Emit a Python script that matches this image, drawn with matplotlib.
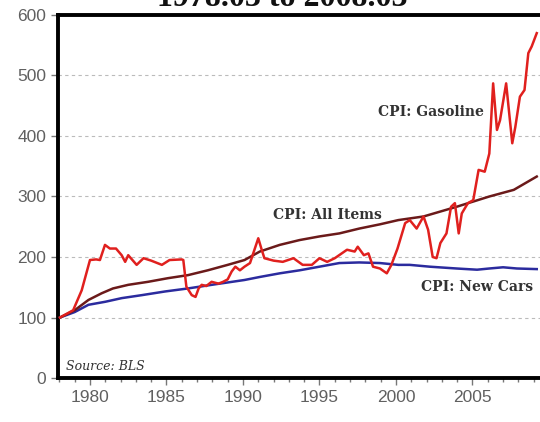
import matplotlib
matplotlib.use("Agg")
import matplotlib.pyplot as plt
from matplotlib.ticker import MultipleLocator

# ---- data (index, 1978.03 = 100) ----
gas_x = [1978.04, 1978.9, 1979.46, 1980.0, 1980.4, 1980.65, 1980.98, 1981.3, 1981.7,
         1982.07, 1982.3, 1982.5, 1983.05, 1983.5, 1984.0, 1984.7, 1985.2, 1986.0,
         1986.1, 1986.3, 1986.65, 1986.9, 1987.1, 1987.3, 1987.6, 1987.95, 1988.4,
         1988.7, 1989.0, 1989.26, 1989.5, 1989.8, 1990.1, 1990.46, 1991.0, 1991.2,
         1991.4, 1992.0, 1992.6, 1993.3, 1993.9, 1994.5, 1995.0, 1995.5, 1996.0,
         1996.8, 1997.3, 1997.5, 1997.9, 1998.2, 1998.5, 1998.95, 1999.4, 1999.7,
         2000.1, 2000.6, 2000.9, 2001.35, 2001.8, 2002.1, 2002.4, 2002.65, 2002.9,
         2003.3, 2003.6, 2003.85, 2004.1, 2004.3, 2004.7, 2005.05, 2005.4, 2005.8,
         2006.1, 2006.35, 2006.6, 2006.8, 2007.2, 2007.6, 2007.8, 2008.1, 2008.4,
         2008.65, 2008.87, 2009.2]
gas_v = [100, 112, 145, 195, 196, 195, 220, 214, 214,
         203, 192, 203, 187, 198, 194, 187, 195, 196,
         195, 151, 137, 134, 148, 154, 152, 159, 156,
         159, 163, 176, 184, 178, 184, 190, 231, 214,
         198, 194, 192, 198, 187, 187, 198, 192, 198,
         212, 209, 217, 203, 206, 184, 181, 173, 187,
         214, 256, 261, 247, 267, 245, 200, 198, 223,
         239, 283, 289, 239, 272, 289, 294, 344, 341,
         371, 487, 410, 426, 487, 388, 415, 465, 476,
         537, 548, 570]

all_x = [1978.04, 1979.0, 1979.9, 1980.76, 1981.5, 1982.5, 1983.8, 1985.1, 1986.4,
         1987.7, 1989.0, 1990.1, 1991.1, 1992.4, 1993.7, 1995.0, 1996.3, 1997.6,
         1998.95, 2000.15, 2001.8, 2003.96, 2006.1, 2007.7, 2009.2]
all_v = [100, 112, 129, 140, 148, 154, 159, 165, 170,
         178, 187, 195, 209, 220, 228, 234, 239, 247,
         254, 261, 267, 283, 300, 311, 333]

car_x = [1978.04, 1979.0, 1979.9, 1981.0, 1982.07, 1983.4, 1984.9, 1986.4, 1987.95,
         1990.1, 1991.1, 1992.4, 1993.7, 1995.0, 1996.3, 1997.6, 1998.95, 2000.15,
         2000.9, 2002.2, 2003.96, 2005.3, 2006.1, 2007.0, 2007.9, 2009.2]
car_v = [100, 109, 121, 126, 132, 137, 143, 148, 154,
         162, 167, 173, 178, 184, 190, 191, 190, 187,
         187, 184, 181, 179, 181, 183, 181, 180]

y_ticks = [0, 100, 200, 300, 400, 500, 600]
x_ticks = [1980, 1985, 1990, 1995, 2000, 2005]
title = "1978.03 to 2008.03"

fig = plt.figure(figsize=(5.40, 4.22), dpi=100)
ax = fig.add_axes([58/540, 44/422, 502/540, 363/422])

ax.set_xlim(1977.91, 2010.72)
ax.set_ylim(0, 600)

for yv in y_ticks[1:-1]:
    ax.axhline(yv, color="#bbbbbb", lw=0.8, ls=(0, (3, 3)), zorder=1)

ax.plot(car_x, car_v, color="#2b2b9e", lw=1.8, zorder=3)
ax.plot(all_x, all_v, color="#6b1a1a", lw=1.8, zorder=4)
ax.plot(gas_x, gas_v, color="#e0201e", lw=1.8, zorder=5)

lab = dict(family="DejaVu Serif", fontweight="bold", fontsize=10, color="#333333",
           ha="center", va="center", zorder=6)
ax.text(2002.3, 440, "CPI: Gasoline", **lab)
ax.text(1995.55, 269, "CPI: All Items", **lab)
ax.text(2005.3, 150, "CPI: New Cars", **lab)
ax.text(1978.45, 19, "Source: BLS", family="DejaVu Serif", style="italic",
        fontsize=9, color="#333333", ha="left", va="center")

ax.set_yticks(y_ticks)
ax.set_xticks(x_ticks)
ax.xaxis.set_minor_locator(MultipleLocator(1))
ax.tick_params(axis="both", which="major", direction="out", length=5, width=1,
               color="#777777", labelcolor="#606060", labelsize=12.5)
ax.tick_params(axis="x", which="minor", direction="out", length=3, width=1, color="#777777")
for lbl in ax.get_xticklabels() + ax.get_yticklabels():
    lbl.set_family("Liberation Sans")

for s in ["left", "bottom", "top"]:
    ax.spines[s].set_linewidth(2.8)
    ax.spines[s].set_color("black")
ax.spines["right"].set_visible(False)

fig.text(282/540, 415.5/422, title, ha="center", va="baseline", family="Liberation Serif",
         fontweight="bold", fontsize=23, color="#111111")

fig.savefig("out.png", dpi=100)
